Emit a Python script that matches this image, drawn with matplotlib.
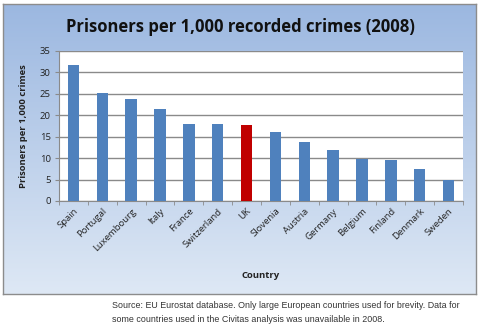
import numpy as np
from matplotlib import pyplot as plt

countries = ["Spain", "Portugal", "Luxembourg", "Italy", "France", "Switzerland", "UK",
             "Slovenia", "Austria", "Germany", "Belgium", "Finland", "Denmark", "Sweden"]
prisoners = [31.7, 25.1, 23.7, 21.5, 17.9, 17.9, 17.7, 16.0, 13.7, 11.9, 9.9, 9.6, 7.4, 4.9]
highlight = "UK"

W, H = 480, 329
fig = plt.figure(figsize=(W / 100, H / 100), dpi=100)

# chart box with a light blue gradient, like the Excel chart area
bx0, by0, bx1, by1 = 3, 4, 476, 294
bg = fig.add_axes([bx0 / W, 1 - by1 / H, (bx1 - bx0) / W, (by1 - by0) / H], zorder=0)
top = np.array([0.61, 0.72, 0.88])
bot = np.array([0.87, 0.91, 0.96])
t = np.linspace(0, 1, 256)[:, None]
grad = top + (bot - top) * t
bg.imshow(grad[:, None, :].repeat(2, axis=1), aspect="auto", extent=[0, 1, 0, 1])
bg.set_xlim(0, 1)
bg.set_ylim(0, 1)
bg.set_xticks([])
bg.set_yticks([])
for s in bg.spines.values():
    s.set_color("#8c8c8c")
    s.set_linewidth(1)

# plot area
px0, py0, px1, py1 = 59, 51, 463, 201
ax = fig.add_axes([px0 / W, 1 - py1 / H, (px1 - px0) / W, (py1 - py0) / H], zorder=1)
ax.set_facecolor("white")
x = np.arange(len(countries))
colors = ["#c00000" if c == highlight else "#4f81bd" for c in countries]
ax.bar(x, prisoners, width=0.4, color=colors, zorder=3)

ax.set_xlim(-0.5, len(countries) - 0.5)
ax.set_ylim(0, 35)
ax.set_yticks(range(0, 36, 5))
ax.yaxis.grid(True, color="#8a8a8a", linewidth=1, zorder=0)
ax.set_xticks(x)
ax.set_xticklabels(countries, rotation=45, ha="right", rotation_mode="anchor",
                   fontsize=6.8, family="Open Sans", color="#222222")
ax.tick_params(axis="x", length=0, pad=4)
ax.set_xticks(np.arange(-0.5, len(countries), 1), minor=True)
ax.tick_params(axis="x", which="minor", length=3, color="#8a8a8a", direction="out")
ax.tick_params(axis="y", length=3, color="#8a8a8a", labelsize=6.8, pad=3,
               labelcolor="#222222")
for lab in ax.get_yticklabels():
    lab.set_family("Open Sans")
for side in ["top", "right"]:
    ax.spines[side].set_visible(False)
for side in ["left", "bottom"]:
    ax.spines[side].set_color("#8a8a8a")

fig.text(240 / W, 1 - 27 / H, "Prisoners per 1,000 recorded crimes (2008)",
         ha="center", va="center", fontsize=12, fontweight="bold",
         family="Open Sans", color="#111111")
fig.text(24 / W, 1 - 126 / H, "Prisoners per 1,000 crimes", rotation=90,
         ha="center", va="center", fontsize=6.8, fontweight="bold",
         family="Open Sans", color="#222222")
fig.text(261 / W, 1 - 275 / H, "Country", ha="center", va="center",
         fontsize=6.8, fontweight="bold", family="Open Sans", color="#222222")

fig.text(112 / W, 1 - 305 / H,
         "Source: EU Eurostat database. Only large European countries used for brevity. Data for",
         ha="left", va="center", fontsize=6.4, family="Liberation Sans", color="#333333")
fig.text(112 / W, 1 - 320 / H,
         "some countries used in the Civitas analysis was unavailable in 2008.",
         ha="left", va="center", fontsize=6.4, family="Liberation Sans", color="#333333")

fig.savefig("out.png", dpi=100)
